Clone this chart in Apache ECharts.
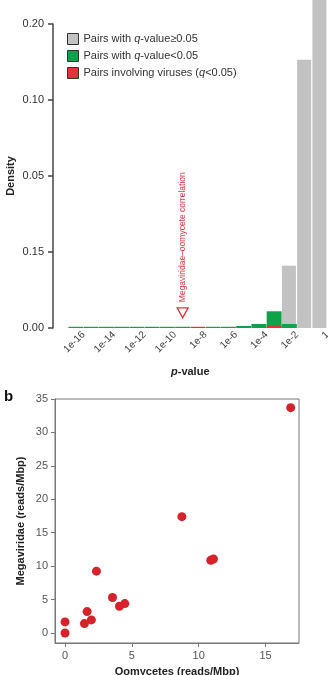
<!DOCTYPE html>
<html>
<head>
<meta charset="utf-8">
<script src="https://cdn.jsdelivr.net/npm/echarts@6/dist/echarts.min.js"></script>
<style>
  html, body { margin: 0; padding: 0; background: #fff; }
  #chart { width: 328px; height: 675px; }
</style>
</head>
<body>
<div id="chart"></div>
<script>
// panel a: histogram of log10(p), one bin per decade (first bin left empty)
const binStarts = [-18, -17, -16, -15, -14, -13, -12, -11, -10, -9, -8, -7, -6, -5, -4, -3, -2, -1]
// bar heights in the panel's own tick units (one unit per labelled tick step)
const grayValues  = [0, 0, 0, 0, 0, 0, 0, 0, 0, 0, 0, 0, 0, 0, 0, 0.82, 3.53, 5.0]
const greenValues = [0, 0.016, 0.016, 0.016, 0.016, 0.016, 0.016, 0.016, 0.016, 0, 0.016, 0.016, 0.026, 0.053, 0.22, 0.053, 0, 0]
const redValues   = [0, 0, 0, 0, 0, 0, 0, 0, 0, 0.016, 0, 0, 0, 0, 0.028, 0, 0, 0]
const densityTickLabels = ['0.00', '0.15', '0.05', '0.10', '0.20']
const pTickValues = [-16, -14, -12, -10, -8, -6, -4, -2, 0]
const pTickLabels = ['1e-16', '1e-14', '1e-12', '1e-10', '1e-8', '1e-6', '1e-4', '1e-2', '1']
const markerLogP = -9.5
const markerY = 0.2
const markerText = 'Megaviridae\u2013oomycete correlation'

// panel b: Megaviridae vs oomycetes
const oomycetes   = [0, 0, 1.45, 1.65, 1.97, 2.35, 3.55, 4.07, 4.47, 8.74, 10.9, 11.1, 16.88]
const megaviridae = [0, 1.65, 1.4, 3.2, 1.95, 9.25, 5.3, 4.0, 4.4, 17.4, 10.86, 11.06, 33.7]

const names = ['gray', 'green', 'red']
const legendText = {
  gray: 'Pairs with {i|q}-value\u22650.05',
  green: 'Pairs with {i|q}-value<0.05',
  red: 'Pairs involving viruses ({i|q}<0.05)'
}

const font = 'Liberation Sans, Arial, sans-serif'
const chart = echarts.init(document.getElementById('chart'))

chart.setOption({
  animation: false,
  textStyle: { fontFamily: font },
  grid: [
    { left: 53, top: 24, width: 274.5, height: 304, outerBoundsMode: 'none' },
    { left: 55, top: 399, width: 244, height: 244, show: true, borderColor: '#777', borderWidth: 1, outerBoundsMode: 'none' }
  ],
  graphic: [
    { type: 'text', left: 4, top: 389, style: { text: 'b', font: 'bold 15px ' + font, fill: '#111' } }
  ],
  legend: {
    data: names,
    orient: 'vertical',
    left: 67,
    top: 33,
    padding: 0,
    itemWidth: 11,
    itemHeight: 11,
    itemGap: 5,
    icon: 'rect',
    itemStyle: { borderColor: '#333', borderWidth: 1 },
    formatter: n => legendText[n],
    textStyle: {
      fontSize: 11, color: '#333',
      rich: { i: { fontStyle: 'italic', fontSize: 11, color: '#333' } }
    }
  },
  xAxis: [
    {
      // bins for the bars
      gridIndex: 0, type: 'category', data: binStarts, position: 'bottom',
      axisLine: { show: false }, axisTick: { show: false }, axisLabel: { show: false }
    },
    {
      gridIndex: 1, type: 'value', min: -0.75, max: 17.5, splitNumber: 4, position: 'bottom',
      axisLine: { onZero: false, lineStyle: { color: '#777' } },
      axisTick: { length: 4, lineStyle: { color: '#777' } },
      splitLine: { show: false },
      axisLabel: { fontSize: 11, color: '#555', margin: 7, showMinLabel: false, showMaxLabel: false },
      name: 'Oomycetes (reads/Mbp)', nameLocation: 'middle', nameGap: 23,
      nameTextStyle: { fontSize: 11, color: '#222', fontWeight: 'bold' }
    },
    {
      // log10 p scale for the tick labels and the marker
      gridIndex: 0, type: 'value', min: -18, max: 0, interval: 2, position: 'bottom',
      axisLine: { show: false, onZero: false }, axisTick: { show: false }, splitLine: { show: false },
      axisLabel: {
        rotate: 45, fontSize: 10, color: '#444', margin: 5,
        formatter: v => { const k = pTickValues.indexOf(v); return k < 0 ? '' : pTickLabels[k] }
      },
      name: '{i|p}-value', nameLocation: 'middle', nameGap: 38,
      nameTextStyle: { fontSize: 11, color: '#222', fontWeight: 'bold', rich: { i: { fontStyle: 'italic', fontWeight: 'bold', fontSize: 11, color: '#222' } } }
    }
  ],
  yAxis: [
    {
      gridIndex: 0, type: 'value', min: 0, max: 4, interval: 1, position: 'left',
      axisLine: { show: true, onZero: false, lineStyle: { color: '#444', width: 1.5 } },
      axisTick: { show: true, length: 5, lineStyle: { color: '#444', width: 1.5 } },
      splitLine: { show: false },
      axisLabel: { fontSize: 11, color: '#333', margin: 9, formatter: v => densityTickLabels[v] || '' },
      name: 'Density', nameLocation: 'middle', nameGap: 37, nameMoveOverlap: false,
      nameTextStyle: { fontSize: 11, color: '#222', fontWeight: 'bold' }
    },
    {
      gridIndex: 1, type: 'value', min: -1.5, max: 35, splitNumber: 7, position: 'left',
      axisLine: { onZero: false, lineStyle: { color: '#777' } },
      axisTick: { length: 4, lineStyle: { color: '#777' } },
      splitLine: { show: false },
      axisLabel: { fontSize: 11, color: '#555', margin: 7, showMinLabel: false },
      name: 'Megaviridae (reads/Mbp)', nameLocation: 'middle', nameGap: 29, nameMoveOverlap: false,
      nameTextStyle: { fontSize: 11, color: '#222', fontWeight: 'bold' }
    }
  ],
  series: [
    {
      name: 'gray', type: 'bar', xAxisIndex: 0, yAxisIndex: 0, clip: false,
      barWidth: '92%', barGap: '-100%', data: grayValues,
      itemStyle: { color: '#c2c2c2' }
    },
    {
      name: 'green', type: 'bar', xAxisIndex: 0, yAxisIndex: 0, clip: false,
      barWidth: '98%', barGap: '-100%', data: greenValues,
      itemStyle: { color: '#0fa24a' }
    },
    {
      name: 'red', type: 'bar', xAxisIndex: 0, yAxisIndex: 0, clip: false,
      barWidth: '98%', barGap: '-100%', data: redValues,
      itemStyle: { color: '#e2333b' }
    },
    {
      type: 'scatter', xAxisIndex: 2, yAxisIndex: 0,
      data: [[markerLogP, markerY]],
      symbol: 'triangle', symbolRotate: 180, symbolSize: [11, 10],
      itemStyle: { color: '#fff', borderColor: '#e2333b', borderWidth: 1.3, opacity: 1 },
      label: {
        show: true, position: 'top', distance: 5, rotate: 90,
        align: 'left', verticalAlign: 'middle',
        formatter: markerText, fontSize: 8.5, color: '#e2333b'
      },
      silent: true
    },
    {
      type: 'scatter', xAxisIndex: 1, yAxisIndex: 1,
      data: oomycetes.map((x, i) => [x, megaviridae[i]]),
      symbolSize: 9,
      itemStyle: { color: '#d6222a', opacity: 1 }
    }
  ]
})
</script>
</body>
</html>
